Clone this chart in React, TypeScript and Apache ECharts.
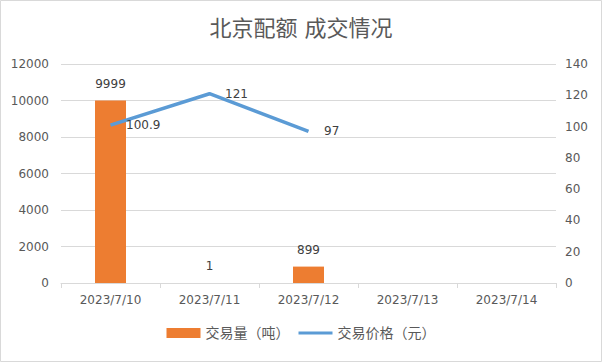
import React, { useEffect, useRef } from "react";
import * as echarts from "echarts";

const categories = ["2023/7/10", "2023/7/11", "2023/7/12", "2023/7/13", "2023/7/14"];
const volume = [9999, 1, 899, null, null];
const price = [100.9, 121, 97, null, null];
const titleText = "北京配额 成交情况";
const volumeName = "交易量（吨）";
const priceName = "交易价格（元）";

const FONT = "DejaVu Sans, Noto Sans CJK SC, sans-serif";

export default function App() {
  const ref = useRef<HTMLDivElement>(null);
  useEffect(() => {
    if (!ref.current) return;
    const chart = echarts.init(ref.current, undefined, { renderer: "svg" });
    chart.setOption({
      animation: false,
      backgroundColor: "#ffffff",
      textStyle: { fontFamily: FONT },
      graphic: [
        {
          type: "rect",
          shape: { x: 0.5, y: 0.5, width: 601, height: 361 },
          style: { fill: "none", stroke: "#d9d9d9", lineWidth: 1 },
          silent: true,
        },
      ],
      title: {
        text: titleText,
        left: "center",
        top: 12,
        textStyle: { fontFamily: FONT, fontSize: 22, fontWeight: "normal", color: "#595959" },
      },
      legend: {
        bottom: 17,
        left: "center",
        itemGap: 9,
        itemWidth: 34,
        itemHeight: 10,
        textStyle: { fontFamily: FONT, fontSize: 14, color: "#595959" },
        data: [
          { name: volumeName, icon: "rect" },
          { name: priceName, icon: "path://M0,0H36V3.2H0Z", itemStyle: { color: "#5B9BD5", opacity: 1 } },
        ],
      },
      grid: { left: 61, right: 46, top: 64, bottom: 79 },
      xAxis: {
        type: "category",
        data: categories,
        axisLine: { lineStyle: { color: "#d9d9d9" } },
        axisTick: { show: true, length: 5, lineStyle: { color: "#d9d9d9" } },
        axisLabel: { color: "#595959", fontSize: 12, fontFamily: FONT, margin: 11 },
      },
      yAxis: [
        {
          type: "value",
          min: 0,
          max: 12000,
          interval: 2000,
          axisLine: { show: false },
          axisTick: { show: false },
          splitLine: { lineStyle: { color: "#d9d9d9" } },
          axisLabel: {
            color: "#595959",
            fontSize: 12,
            fontFamily: FONT,
            margin: 12,
            formatter: (v: number) => String(v),
          },
        },
        {
          type: "value",
          min: 0,
          max: 140,
          interval: 20,
          axisLine: { show: false },
          axisTick: { show: false },
          splitLine: { show: false },
          axisLabel: {
            color: "#595959",
            fontSize: 12,
            fontFamily: FONT,
            margin: 9,
            formatter: (v: number) => String(v),
          },
        },
      ],
      series: [
        {
          name: volumeName,
          type: "bar",
          yAxisIndex: 0,
          data: volume,
          barWidth: 31,
          itemStyle: { color: "#ED7D31" },
          label: {
            show: true,
            position: "top",
            distance: 11,
            color: "#404040",
            fontSize: 12,
            fontFamily: FONT,
          },
        },
        {
          name: priceName,
          type: "line",
          yAxisIndex: 1,
          data: price,
          color: "#5B9BD5",
          symbol: "circle",
          symbolSize: 1,
          showSymbol: true,
          lineStyle: { color: "#5B9BD5", width: 3.5 },
          itemStyle: { color: "rgba(0,0,0,0)", borderWidth: 0 },
          label: {
            show: true,
            position: "right",
            distance: 15,
            color: "#404040",
            opacity: 1,
            fontSize: 12,
            fontFamily: FONT,
          },
        },
      ],
    });
    return () => chart.dispose();
  }, []);
  return (
    <div
      ref={ref}
      style={{ position: "fixed", left: 0, top: 0, width: 602, height: 362 }}
    />
  );
}
